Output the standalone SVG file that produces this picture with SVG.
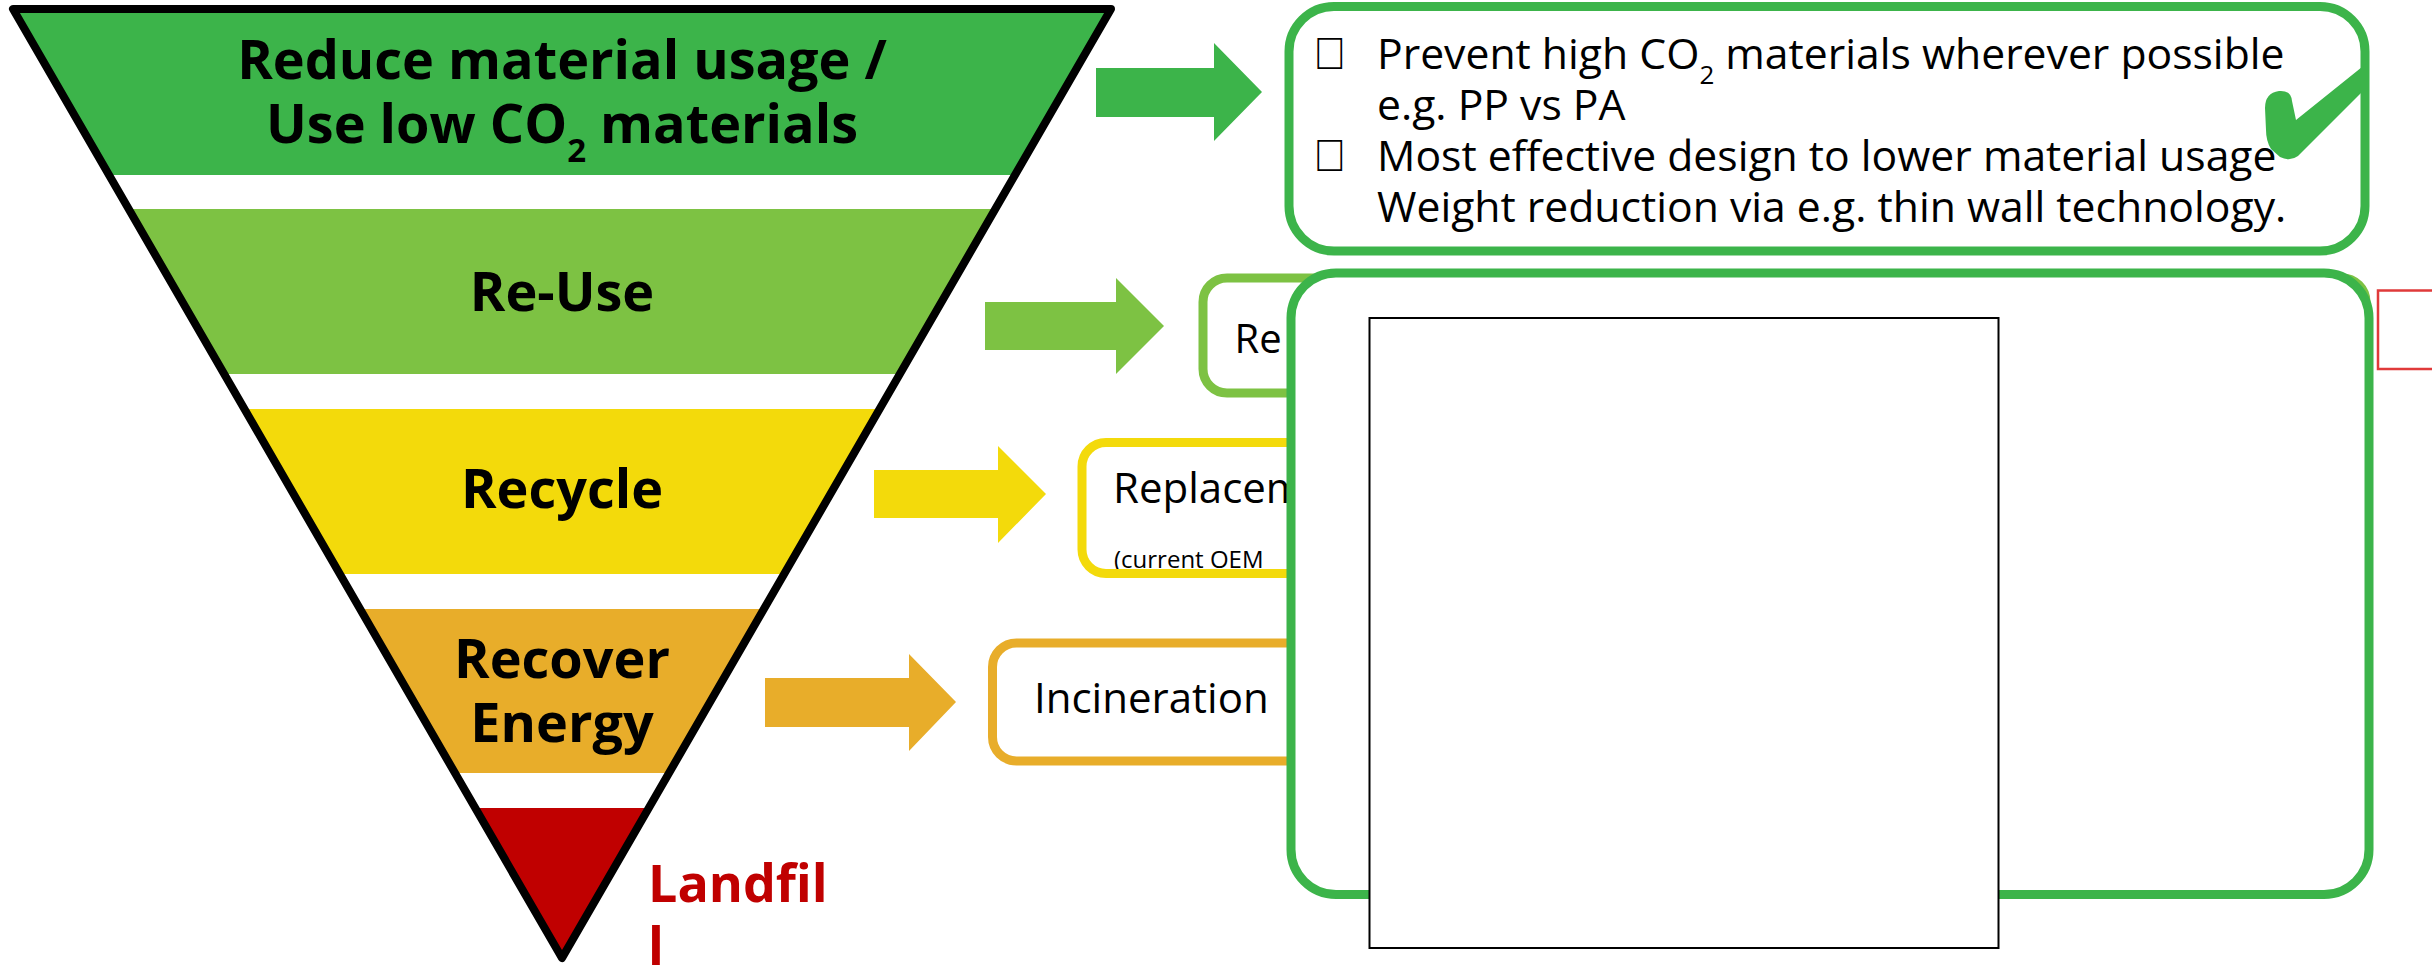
<svg xmlns="http://www.w3.org/2000/svg" width="2432" height="966" viewBox="0 0 2432 966">
<style>
.lbl{font-family:"Open Sans","Liberation Sans",sans-serif;font-weight:700;font-size:54px;fill:#000;text-anchor:middle}
.txt{font-family:"Open Sans","Liberation Sans",sans-serif;font-size:42px;fill:#000}
.t1{font-family:"Open Sans","Liberation Sans",sans-serif;font-size:42.7px;fill:#000}
.box{fill:#fff;stroke-width:9}
.bul{font-family:"Liberation Sans";font-size:45px;fill:#000}
</style>
<defs>
<clipPath id="tri"><polygon points="13,9 1111,9 562,958"/></clipPath>
</defs>
<rect width="2432" height="966" fill="#fff"/>

<g id="pyramid">
<g clip-path="url(#tri)">
<rect x="0" y="0" width="1130" height="175" fill="#3CB44A"/>
<rect x="0" y="209" width="1130" height="165" fill="#7DC243"/>
<rect x="0" y="409" width="1130" height="165" fill="#F3DA0B"/>
<rect x="0" y="609" width="1130" height="164" fill="#E8AD2A"/>
<rect x="0" y="808" width="1130" height="160" fill="#C00000"/>
</g>
<polygon points="13,9 1111,9 562,958" fill="none" stroke="#000" stroke-width="8" stroke-linejoin="round"/>
</g>

<g id="level-reduce">
<text class="lbl" x="562" y="79">Reduce material usage /</text>
<text class="lbl" x="562" y="143">Use low CO<tspan font-size="33" dy="19">2</tspan><tspan dy="-19"> materials</tspan></text>
</g>
<g id="level-reuse"><text class="lbl" x="562" y="311">Re-Use</text></g>
<g id="level-recycle"><text class="lbl" x="562" y="508">Recycle</text></g>
<g id="level-recover"><text class="lbl" x="562" y="678">Recover</text><text class="lbl" x="562" y="742">Energy</text></g>
<g id="level-landfill"><text class="lbl" style="text-anchor:start;fill:#C00000;font-size:52px" x="648" y="902">Landfil</text><text class="lbl" style="text-anchor:start;fill:#C00000;font-size:52px" x="648" y="965">l</text></g>

<g id="connectors">
<polygon points="1096,68 1214,68 1214,43 1262,92 1214,141 1214,117 1096,117" fill="#3CB44A"/>
<polygon points="985,302 1116,302 1116,278 1164,326 1116,374 1116,350 985,350" fill="#7DC243"/>
<polygon points="874,470 998,470 998,446 1046,494 998,543 998,518 874,518" fill="#F3DA0B"/>
<polygon points="765,678 909,678 909,654 956,702 909,751 909,727 765,727" fill="#E8AD2A"/>
</g>

<g id="box-reduce">
<rect class="box" x="1289" y="6.5" width="1076" height="244.5" rx="45" stroke="#3CB44A" stroke-width="8"/>
<text class="bul" x="1313" y="69">&#xF0D8;</text>
<text class="bul" x="1313" y="171">&#xF0D8;</text>
<text class="t1" x="1377" y="69">Prevent high CO<tspan font-size="26" dy="15">2</tspan><tspan dy="-15"> materials wherever possible</tspan></text>
<text class="t1" x="1377" y="120">e.g. PP vs PA</text>
<text class="t1" x="1377" y="171">Most effective design to lower material usage</text>
<text class="t1" x="1377" y="222">Weight reduction via e.g. thin wall technology.</text>
<path d="M2265,108 Q2265,93 2279,91 Q2291,90 2292,101 L2296,120 L2367,63 L2367,87 L2298,156 Q2290,162 2280,157 L2271,149 Q2266,141 2266,130 Z" fill="#3CB44A"/>
</g>

<g id="box-reuse">
<rect class="box" x="1203" y="278" width="1163" height="115" rx="24" stroke="#7DC243"/>
<text class="txt" x="1234.5" y="353" style="font-size:40px">Re</text>
</g>

<g id="box-recycle">
<rect x="1082" y="442.5" width="1150" height="131" rx="24" fill="#fff"/>
<text class="txt" x="1113" y="503">Replacem</text>
<text class="txt" x="1114" y="568" style="font-size:24px">(current OEM</text>
<rect x="1082" y="442.5" width="1150" height="131" rx="24" fill="none" stroke="#F3DA0B" stroke-width="9"/>
</g>

<g id="box-recover">
<rect class="box" x="992.5" y="643" width="1150" height="118" rx="24" stroke="#E8AD2A" stroke-width="8.5"/>
<text class="txt" x="1034" y="713">Incineration</text>
</g>

<g id="box-overlay">
<rect class="box" x="1291" y="273" width="1078" height="621.5" rx="45" stroke="#3CB44A" stroke-width="8"/>
</g>

<g id="frame-black">
<rect x="1369.5" y="318" width="629" height="630" fill="#fff" stroke="#000" stroke-width="2"/>
</g>

<g id="frame-red">
<rect x="2378" y="290.5" width="100" height="78.5" fill="#fff" stroke="#E03A3A" stroke-width="2.5"/>
</g>
</svg>
